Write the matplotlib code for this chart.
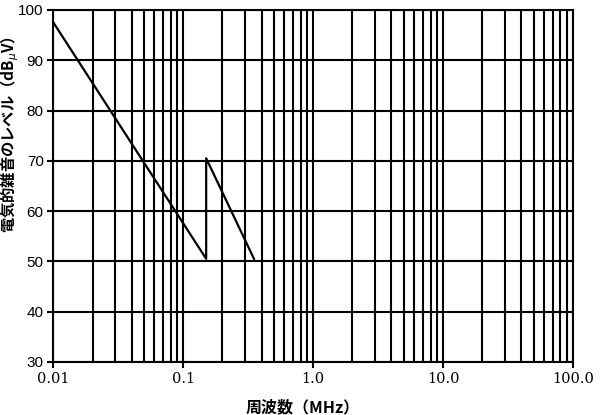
import matplotlib.pyplot as plt
import numpy as np

plt.rcParams['font.family'] = ['Noto Sans CJK JP', 'DejaVu Sans']

# noise limit line (MHz, dBuV)
freq = [0.01, 0.15, 0.15, 0.35]
level = [97.5, 50.5, 70.5, 50.5]

xticks = [0.01, 0.1, 1.0, 10.0, 100.0]
xticklabels = ['0.01', '0.1', '1.0', '10.0', '100.0']
yticks = [30, 40, 50, 60, 70, 80, 90, 100]

fig = plt.figure(figsize=(6, 4.15), dpi=100)
ax = fig.add_axes([0.089, 0.128, 0.866, 0.848])

# log paper grid
minor = [m * 10.0**d for d in range(-2, 2) for m in range(2, 10)]
for x in minor + xticks:
    ax.axvline(x, color='black', lw=1.5, zorder=1)
for y in yticks:
    ax.axhline(y, color='black', lw=1.5, zorder=1)

ax.plot(freq, level, color='black', lw=1.6, zorder=3)

ax.set_xscale('log')
ax.set_xlim(0.01, 100)
ax.set_ylim(30, 100)
ax.set_xticks(xticks)
ax.set_xticklabels(xticklabels, family='DejaVu Serif', fontsize=10.5)
ax.xaxis.set_minor_locator(plt.NullLocator())
ax.set_yticks(yticks)
ax.set_yticklabels([str(v) for v in yticks], fontsize=11, family='Liberation Sans')
ax.tick_params(axis='both', length=4, width=1.5, color='black', pad=3)
for s in ax.spines.values():
    s.set_linewidth(1.5)

ax.set_xlabel('周波数（MHz）', fontsize=11.5, fontweight='bold')
ax.xaxis.set_label_coords(0.48, -0.105)
ax.set_ylabel('電気的雑音のレベル（dB$_{\\mu}$V）', fontsize=11, fontweight='bold', va='center')
ax.yaxis.set_label_coords(-0.084, 0.645)

fig.savefig('out.png', dpi=100)
